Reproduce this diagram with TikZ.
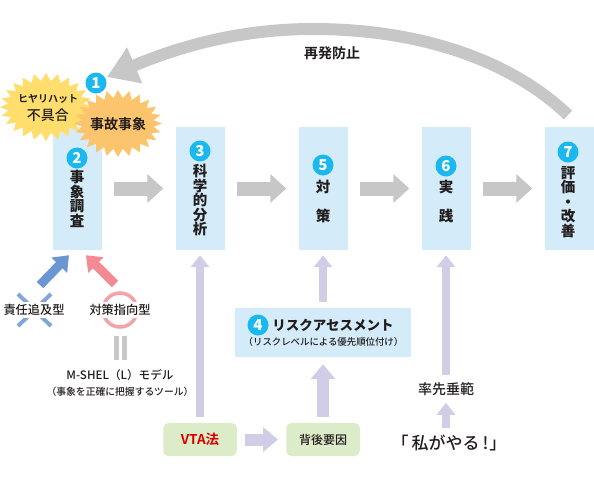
\documentclass[tikz,border=0pt]{standalone}
\usepackage{fontspec}
\setmainfont{Noto Sans CJK JP Medium}
\newfontfamily\jpb{Noto Sans CJK JP Bold}
\newfontfamily\jpk{Noto Sans CJK JP Black}
\usetikzlibrary{arrows.meta}
\definecolor{boxblue}{RGB}{212,236,250}
\definecolor{numblue}{RGB}{27,184,240}
\definecolor{soft}{RGB}{209,205,231}
\definecolor{grayar}{RGB}{199,199,199}
\definecolor{greenbox}{RGB}{220,236,200}
\definecolor{blar}{RGB}{107,150,210}
\definecolor{pinkar}{RGB}{243,138,148}
\definecolor{ink}{RGB}{35,30,30}
\definecolor{burstY}{RGB}{255,222,110}
\definecolor{burstO}{RGB}{252,196,108}
\tikzset{
 x=1pt,y=-1pt,
 stepbox/.style={fill=boxblue,minimum width=49pt,minimum height=123pt,inner sep=0pt},
 greenb/.style={fill=greenbox,rounded corners=5pt,minimum width=73.5pt,minimum height=33pt,inner sep=0pt},
 num/.style={circle,fill=numblue,text=white,minimum size=21pt,inner sep=0pt,font=\jpk\fontsize{15}{15}\selectfont},
 vlab/.style={align=center,inner sep=0pt,text=ink,font=\jpk\fontsize{14.5}{14.5}\selectfont},
 lab/.style={inner sep=0pt,text=ink},
 gbig/.style={draw=grayar,line width=14pt,-{Triangle[length=16pt,width=28pt]}},
 sbig/.style={draw=soft,line width=12pt,-{Triangle[length=15pt,width=24pt]}},
 sthin/.style={draw=soft,line width=8pt,-{Triangle[length=12pt,width=18pt]}},
 cross/.style={draw=blar!85!white,line width=4pt},
}
\newcommand{\burst}[6]{% cx cy rx ry depth colour
 \fill[#6] plot[samples at={0,1,...,47}] ({#1+(#3-#5*mod(\x,2))*cos(\x*7.5)},{#2+(#4-#5*mod(\x,2))*sin(\x*7.5)}) -- cycle;}
\begin{document}
\begin{tikzpicture}
\useasboundingbox (0,0) rectangle (594,480);
\fill[white] (0,0) rectangle (594,480);
% step boxes
\node[stepbox] (b2) at (77.5,188.5) {};
\node[stepbox] (b3) at (200,188.5) {};
\node[stepbox] (b5) at (323,188.5) {};
\node[stepbox] (b6) at (446,188.5) {};
\node[stepbox] (b7) at (569,188.5) {};
\node[fill=boxblue,minimum width=176pt,minimum height=49pt,inner sep=0pt] (b4) at (323,332.5) {};
\node[greenb] (vta) at (200,439.5) {};
\node[greenb] (haigo) at (323,439.5) {};
% bursts
\burst{46}{107}{46}{34}{8}{burstY}
\burst{118}{123.5}{44}{33.5}{8}{burstO}
\node[lab,font=\jpb\fontsize{10}{10}\selectfont] (hiyari) at (48,99) {ヒヤリハット};
\node[lab,font=\fontsize{14}{14}\selectfont] (fugu) at (48,115) {不具合};
\node[lab,font=\jpb\fontsize{14}{14}\selectfont] (jiko) at (118,124) {事故事象};
% numbers
\node[num] (n1) at (96,83) {1};
\node[num] (n2) at (77,158) {2};
\node[num] (n3) at (200,151) {3};
\node[num] (n5) at (323,165) {5};
\node[num] (n6) at (446,166) {6};
\node[num] (n7) at (568,152) {7};
% box labels
\node[vlab,anchor=north] (t2) at (77,170) {事\\象\\調\\査};
\node[vlab,anchor=north] (t3) at (200,164) {科\\学\\的\\分\\析};
\node[vlab] (t5a) at (323,187) {対};
\node[vlab] (t5b) at (323,216) {策};
\node[vlab] (t6a) at (446,187) {実};
\node[vlab] (t6b) at (446,216) {践};
\node[vlab,anchor=north] (t7) at (568,166) {評\\価\\・\\改\\善};
% horizontal arrows
\draw[gbig] ([xshift=12pt]b2.east) -- ([xshift=-12pt]b3.west);
\draw[gbig] ([xshift=12pt]b3.east) -- ([xshift=-12pt]b5.west);
\draw[gbig] ([xshift=12pt]b5.east) -- ([xshift=-12pt]b6.west);
\draw[gbig] ([xshift=12pt]b6.east) -- ([xshift=-12pt]b7.west);
% return arrow
\coordinate (backstart) at (568,115);
\coordinate (backtip) at (107,77);
\draw[draw=grayar,line width=12pt,-{Triangle[length=30pt,width=37pt]}] (backstart) .. controls (505,55) and (410,29) .. (313,29) .. controls (250,29) and (190,42) .. (backtip);
\node[lab,font=\jpb\fontsize{14}{14}\selectfont] (saihatsu) at (332,53) {再発防止};
% box 4
\node[num] (n4) at (258,325) {4};
\node[lab,font=\jpk\fontsize{13.5}{13.5}\selectfont] (risk) at (333,325) {リスクアセスメント};
\node[lab,font=\fontsize{9.4}{10}\selectfont] (riskb) at (323.5,342) {（リスクレベルによる優先順位付け）};
% lower texts
\node[lab,font=\jpb\fontsize{13.5}{13.5}\selectfont,text=red!85!black] (vtat) at (vta) {VTA法};
\node[lab,font=\fontsize{12}{12}\selectfont] (haigot) at (haigo) {背後要因};
\node[lab,font=\fontsize{14}{14}\selectfont] (sossen) at (446,389) {率先垂範};
\node[lab,font=\fontsize{17}{17}\selectfont] (watashi) at (449,443) {「\hspace{3pt}私がやる\hspace{3pt}!\hspace{1pt}」};
% vertical soft arrows
\draw[sthin] ([yshift=6pt]vta.north) -- ([yshift=-5pt]b3.south);
\draw[sbig] ([yshift=6pt]haigo.north) -- ([yshift=-7pt]b4.south);
\draw[sthin] ([yshift=6pt]b4.north) -- ([yshift=-5pt]b5.south);
\draw[sthin] ([yshift=7pt]sossen.north) -- ([yshift=-5pt]b6.south);
\draw[sthin] (watashi.north -| sossen) ++(0,-7) -- ([yshift=-7pt]sossen.south);
\draw[sbig] ([xshift=8pt]vta.east) -- ([xshift=-8pt]haigo.west);
% left cluster
\coordinate (blt) at (40,285); \coordinate (plt) at (115,284);
\draw[draw=blar,line width=9pt,-{Triangle[length=14pt,width=21pt]}] (blt) -- ([xshift=-8.5pt,yshift=-5pt]b2.south);
\draw[draw=pinkar,line width=9pt,-{Triangle[length=14pt,width=21pt]}] (plt) -- ([xshift=8.5pt,yshift=-5pt]b2.south);
\draw[cross] (18,294) -- (51,326);
\draw[cross] (51,294) -- (18,326);
\draw[draw=pinkar!80!white,line width=3.5pt] (120,310) circle (17);
\node[lab,fill=white,inner xsep=1pt,inner ysep=2pt,font=\fontsize{12.2}{12}\selectfont] (sekinin) at (34,310) {責任追及型};
\node[lab,fill=white,inner xsep=1pt,inner ysep=2pt,font=\fontsize{12.2}{12}\selectfont] (taisaku) at (120,310) {対策指向型};
\fill[grayar] (114,336) rectangle (118.7,360);
\fill[grayar] (122,336) rectangle (126.7,360);
\node[lab,font=\fontsize{11.6}{12}\selectfont] (mshel) at (120,375) {M-SHEL（L）モデル};
\node[lab,font=\fontsize{9.8}{10}\selectfont] (mshelb) at (120,392) {（事象を正確に把握するツール）};
\end{tikzpicture}
\end{document}
